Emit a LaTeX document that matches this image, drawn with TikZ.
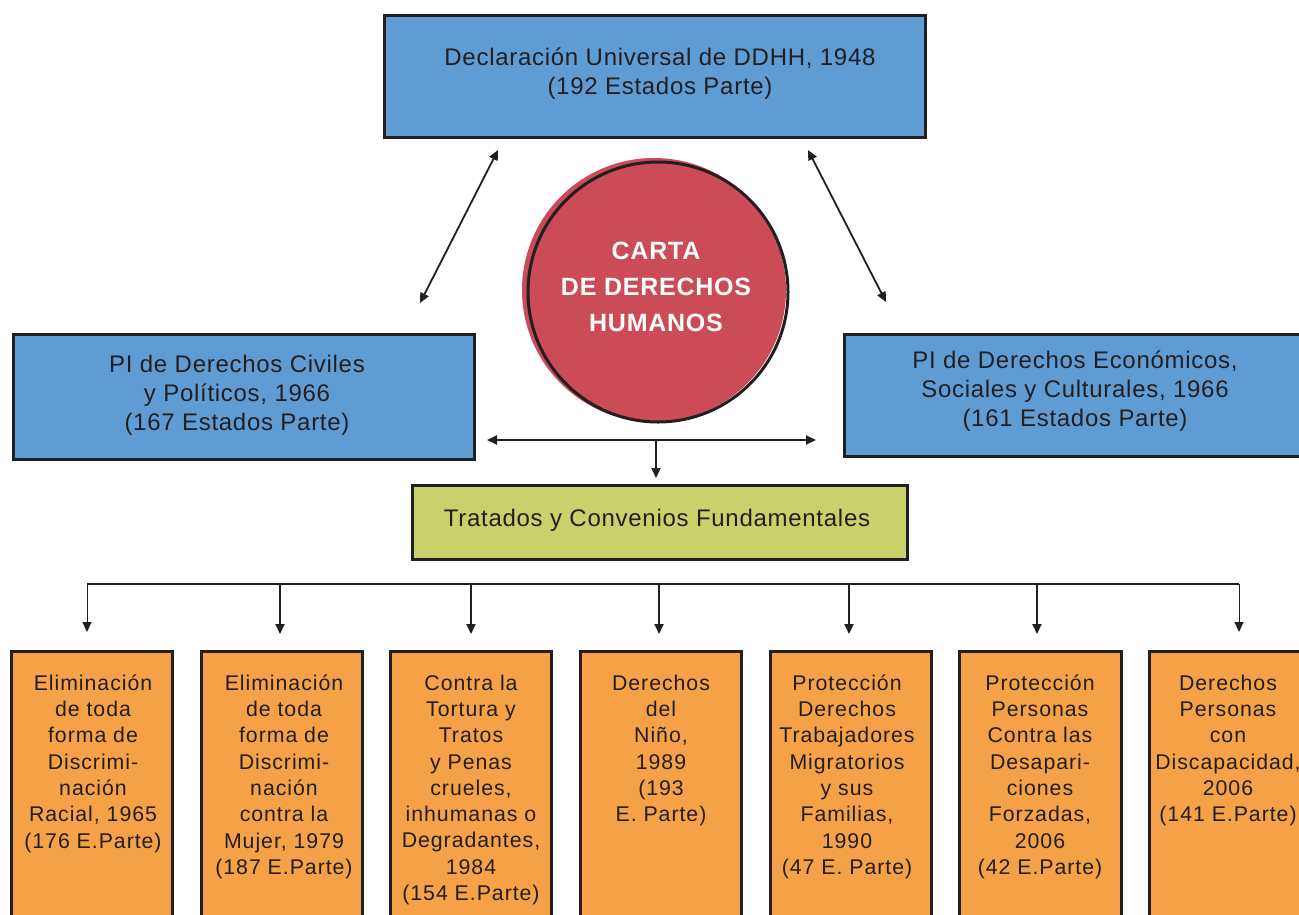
\documentclass[tikz,border=0pt]{standalone}
\usepackage{fontspec}
\setmainfont{Liberation Sans}[LetterSpace=3.0]
\newfontfamily\smallfont{Liberation Sans}[LetterSpace=4.5]
\usetikzlibrary{arrows.meta}
\definecolor{ink}{HTML}{231F20}
\definecolor{bluef}{HTML}{5F9CD3}
\definecolor{redf}{HTML}{CB4B57}
\definecolor{greenf}{HTML}{C9D16A}
\definecolor{orangef}{HTML}{F4A147}
\begin{document}
\begin{tikzpicture}[x=1pt,y=-1pt,
  box/.style={draw=ink, line width=2.6pt, rectangle, inner sep=0pt, anchor=north west},
  bluebox/.style={box, fill=bluef},
  orbox/.style={box, fill=orangef, minimum width=161pt, minimum height=290pt},
  txt/.style={text=ink, align=center, inner sep=0pt, font=\fontsize{24}{28.8}\selectfont},
  smalltxt/.style={text=ink, align=center, inner sep=0pt, anchor=north, font=\smallfont\fontsize{21.3}{26.3}\selectfont},
  conn/.style={draw=ink, line width=1.8pt},
  thinconn/.style={draw=ink, line width=1pt},
  tip/.style={-{Triangle[length=10pt,width=9pt]}},
  both/.style={{Triangle[length=10pt,width=9pt]}-{Triangle[length=10pt,width=9pt]}}
]
\useasboundingbox (0,0) rectangle (1299,914);
\clip (0,0) rectangle (1299,914);

% top box
\node[bluebox, minimum width=541pt, minimum height=122pt] (ddhh) at (383,14) {};
\node[txt] (ddhhtxt) at (660,73.5) {Declaración Universal de DDHH, 1948\\(192 Estados Parte)};

% left and right boxes
\node[bluebox, minimum width=461pt, minimum height=125pt] (pidcp) at (12,333) {};
\node[txt] (pidcptxt) at (237,395) {PI de Derechos Civiles\\y Políticos, 1966\\(167 Estados Parte)};
\node[bluebox, minimum width=480pt, minimum height=122pt] (pidesc) at (843,333) {};
\node[txt] (pidesctxt) at (1075,391) {PI de Derechos Económicos,\\Sociales y Culturales, 1966\\(161 Estados Parte)};

% circle
\node[circle, fill=redf, minimum size=264pt, inner sep=0pt] (carta) at (654,290) {};
\draw[ink, line width=3pt] (658,292) circle[radius=130];
\node[text=white, align=center, inner sep=0pt, font=\bfseries\fontsize{25}{36}\selectfont] (cartatxt) at (656,287) {CARTA\\DE DERECHOS\\HUMANOS};

% diagonal arrows
\coordinate (la) at (498,150);
\coordinate (lb) at (420,303);
\coordinate (ra) at (808,150);
\coordinate (rb) at (886,302);
\draw[conn, both] (la) -- (lb);
\draw[conn, both] (ra) -- (rb);

% horizontal arrow and down arrow
\coordinate (hl) at (487,440);
\coordinate (hr) at (816,440);
\coordinate (hm) at (656,440);
\coordinate (hd) at (656,478);
\draw[conn, both] (hl) -- (hr);
\draw[conn, tip] (hm) -- (hd);

% green box
\node[box, fill=greenf, minimum width=495pt, minimum height=74pt] (tratados) at (411,484) {};
\node[txt] (tratadostxt) at (657,520) {Tratados y Convenios Fundamentales};

% bottom boxes
\node[orbox] (b1) at (10,650) {};
\node[orbox] (b2) at (200,650) {};
\node[orbox] (b3) at (389,650) {};
\node[orbox] (b4) at (579,650) {};
\node[orbox] (b5) at (769,650) {};
\node[orbox, minimum width=162pt] (b6) at (958,650) {};
\node[orbox] (b7) at (1148,650) {};

% distribution line
\coordinate (d1) at (87,584);
\coordinate (d2) at (280,584);
\coordinate (d3) at (471,584);
\coordinate (d4) at (659,584);
\coordinate (d5) at (849,584);
\coordinate (d6) at (1037,584);
\coordinate (d7) at (1239,584);
\draw[conn] (d1) -- (d7);
\draw[thinconn, tip] (d1) -- ++(0,48);
\foreach \i in {2,...,6} { \draw[conn, tip] (d\i) -- ++(0,50); }
\draw[thinconn, tip] (d7) -- ++(0,48);

% bottom texts
\node[smalltxt] (t1) at (93,674.5) {Eliminación\\de toda\\forma de\\Discrimi-\\nación\\Racial, 1965\\(176 E.Parte)};
\node[smalltxt] (t2) at (284,674.5) {Eliminación\\de toda\\forma de\\Discrimi-\\nación\\contra la\\Mujer, 1979\\(187 E.Parte)};
\node[smalltxt] (t3) at (471,674.5) {Contra la\\Tortura y\\Tratos\\y Penas\\crueles,\\inhumanas o\\Degradantes,\\1984\\(154 E.Parte)};
\node[smalltxt] (t4) at (661,674.5) {Derechos\\del\\Niño,\\1989\\(193\\E. Parte)};
\node[smalltxt] (t5) at (847,674.5) {Protección\\Derechos\\Trabajadores\\Migratorios\\y sus\\Familias,\\1990\\(47 E. Parte)};
\node[smalltxt] (t6) at (1040,674.5) {Protección\\Personas\\Contra las\\Desapari-\\ciones\\Forzadas,\\2006\\(42 E.Parte)};
\node[smalltxt] (t7) at (1228,674.5) {Derechos\\Personas\\con\\Discapacidad,\\2006\\(141 E.Parte)};
\end{tikzpicture}
\end{document}
